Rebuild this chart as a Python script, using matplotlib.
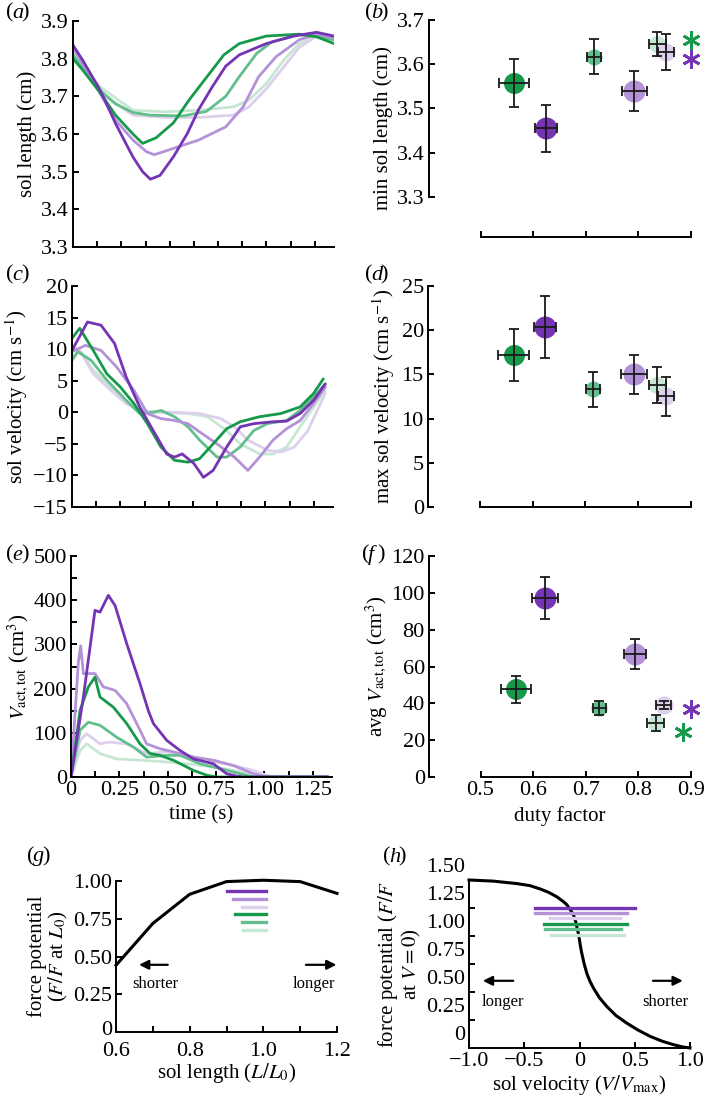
import numpy as np
import matplotlib.pyplot as plt
import matplotlib.transforms as mtransforms

plt.rcParams.update({'font.size': 16, 'font.family': ['Liberation Serif', 'DejaVu Serif'],
                     'mathtext.fontset': 'stix', 'axes.linewidth': 1.4,
                     'axes.labelsize': 15,
                     'xtick.direction': 'in', 'ytick.direction': 'in',
                     'xtick.major.width': 1.4, 'ytick.major.width': 1.4,
                     'xtick.minor.width': 1.4, 'ytick.minor.width': 1.4,
                     'xtick.major.size': 4, 'ytick.major.size': 4,
                     'xtick.minor.size': 4, 'ytick.minor.size': 4,
                     'xtick.major.pad': 3, 'ytick.major.pad': 3,
                     'axes.unicode_minus': True})

W, H = 709, 1105

# series order: dark green, dark purple, mid green, mid purple, light green, light purple
names = ['g1', 'p1', 'g2', 'p2', 'g3', 'p3']
colors = {'g1': '#16994b', 'p1': '#7534b4', 'g2': '#62bf8d', 'p2': '#b392d8',
          'g3': '#c6e7d3', 'p3': '#dcd0ec'}

# (a) sol length (cm) vs time (s)
a_g1_t = [0, 0.05, 0.14, 0.22, 0.31, 0.36, 0.43, 0.52, 0.60, 0.69, 0.78, 0.86, 1.0, 1.17, 1.26, 1.35]
a_g1 = [3.80, 3.77, 3.71, 3.65, 3.60, 3.575, 3.59, 3.63, 3.69, 3.75, 3.81, 3.84, 3.86, 3.865, 3.858, 3.84]
a_p1_t = [0, 0.05, 0.14, 0.22, 0.31, 0.36, 0.40, 0.45, 0.52, 0.59, 0.65, 0.72, 0.79, 0.86, 1.0, 1.14, 1.26, 1.35]
a_p1 = [3.836, 3.796, 3.717, 3.628, 3.539, 3.50, 3.48, 3.49, 3.54, 3.60, 3.665, 3.725, 3.78, 3.81, 3.84, 3.86, 3.87, 3.86]
a_g2_t = [0, 0.14, 0.22, 0.31, 0.40, 0.57, 0.69, 0.79, 0.86, 0.95, 1.03, 1.17, 1.26, 1.35]
a_g2 = [3.81, 3.716, 3.68, 3.657, 3.65, 3.648, 3.66, 3.70, 3.752, 3.814, 3.845, 3.863, 3.86, 3.85]
a_p2_t = [0, 0.14, 0.22, 0.31, 0.38, 0.42, 0.48, 0.65, 0.79, 0.88, 0.96, 1.05, 1.17, 1.26, 1.35]
a_p2 = [3.83, 3.708, 3.637, 3.584, 3.553, 3.545, 3.555, 3.584, 3.619, 3.672, 3.752, 3.805, 3.85, 3.865, 3.855]
a_g3_t = [0, 0.14, 0.31, 0.48, 0.65, 0.83, 0.91, 1.0, 1.09, 1.17, 1.26, 1.35]
a_g3 = [3.805, 3.725, 3.663, 3.659, 3.663, 3.672, 3.69, 3.734, 3.796, 3.84, 3.86, 3.855]
a_p3_t = [0, 0.14, 0.31, 0.48, 0.65, 0.83, 0.91, 1.0, 1.09, 1.17, 1.26, 1.35]
a_p3 = [3.823, 3.71, 3.65, 3.644, 3.644, 3.65, 3.672, 3.72, 3.778, 3.83, 3.86, 3.85]

# (c) sol velocity (cm/s) vs time (s)
c_g1_t = [0, 0.04, 0.11, 0.18, 0.25, 0.32, 0.39, 0.46, 0.53, 0.60, 0.66, 0.73, 0.80, 0.87, 0.97, 1.08, 1.18, 1.25, 1.30]
c_g1 = [11.7, 13.3, 9.8, 6.1, 4.0, 1.4, -1.8, -5.5, -7.6, -7.9, -7.35, -5.0, -2.6, -1.5, -0.7, -0.2, 0.85, 3.0, 5.3]
c_p1_t = [0, 0.08, 0.15, 0.22, 0.28, 0.35, 0.42, 0.49, 0.53, 0.57, 0.63, 0.68, 0.73, 0.80, 0.87, 0.94, 1.04, 1.11, 1.18, 1.25, 1.31]
c_p1 = [9.8, 14.3, 13.8, 10.9, 5.6, 0.85, -2.9, -6.6, -7.1, -6.6, -8.1, -10.3, -9.2, -5.5, -2.3, -1.8, -1.5, -1.4, -0.2, 1.9, 4.5]
c_g2_t = [0, 0.03, 0.10, 0.18, 0.28, 0.35, 0.42, 0.46, 0.53, 0.60, 0.66, 0.75, 0.80, 0.87, 0.94, 1.01, 1.11, 1.18, 1.25, 1.31]
c_g2 = [8.2, 9.6, 8.2, 5.1, 1.9, -0.2, 0.0, 0.3, -0.7, -2.3, -4.4, -7.1, -7.1, -5.5, -2.9, -1.8, -1.3, 0.3, 2.4, 4.5]
c_p2_t = [0, 0.07, 0.15, 0.23, 0.32, 0.39, 0.46, 0.53, 0.60, 0.66, 0.75, 0.84, 0.91, 0.97, 1.04, 1.11, 1.18, 1.25, 1.31]
c_p2 = [9.6, 10.6, 9.8, 7.2, 3.5, -0.2, -1.0, -1.3, -1.8, -3.1, -5.0, -7.1, -9.2, -7.1, -4.4, -2.6, -1.3, 1.4, 4.0]
c_g3_t = [0, 0.04, 0.11, 0.20, 0.28, 0.35, 0.46, 0.60, 0.70, 0.80, 0.87, 0.97, 1.04, 1.11, 1.18, 1.25, 1.31]
c_g3 = [8.8, 9.8, 6.7, 4.0, 1.4, 0.3, 0.0, -0.2, -0.7, -2.9, -5.0, -6.6, -6.6, -5.5, -2.3, 0.85, 3.5]
c_p3_t = [0, 0.04, 0.11, 0.20, 0.28, 0.39, 0.53, 0.66, 0.77, 0.84, 0.91, 1.01, 1.08, 1.15, 1.22, 1.31]
c_p3 = [10.4, 9.8, 6.1, 3.5, 1.4, 0.0, 0.0, -0.2, -1.0, -2.3, -4.4, -6.0, -6.3, -5.5, -2.9, 3.0]

# (e) V_act,tot (cm^3) vs time (s)
e_g1_t = [0, 0.047, 0.09, 0.124, 0.15, 0.219, 0.288, 0.357, 0.409, 0.46, 0.529, 0.633, 0.702, 0.753, 1.33]
e_g1 = [0, 151, 204, 226, 181, 158, 121, 75, 53, 49, 38, 15, 4, 0, 0]
e_p1_t = [0, 0.064, 0.124, 0.15, 0.193, 0.228, 0.288, 0.357, 0.40, 0.426, 0.495, 0.564, 0.633, 0.736, 0.805, 0.874, 1.33]
e_p1 = [0, 181, 377, 373, 411, 388, 302, 211, 150, 121, 83, 60, 41, 30, 7.5, 0, 0]
e_g2_t = [0, 0.047, 0.09, 0.15, 0.236, 0.322, 0.391, 0.495, 0.564, 0.667, 0.77, 0.874, 0.943, 1.33]
e_g2 = [0, 106, 124, 117, 90, 68, 45, 49, 49, 30, 19, 7.5, 0, 0]
e_p2_t = [0, 0.038, 0.05, 0.064, 0.124, 0.167, 0.228, 0.288, 0.357, 0.391, 0.46, 0.529, 0.633, 0.736, 0.84, 0.943, 1.01, 1.33]
e_p2 = [0, 260, 297, 234, 234, 204, 196, 166, 106, 75, 64, 57, 45, 38, 26, 7.5, 0, 0]
e_g3_t = [0, 0.047, 0.081, 0.15, 0.236, 0.357, 0.495, 0.598, 0.736, 0.84, 0.977, 1.05, 1.33]
e_g3 = [0, 60, 75, 53, 41, 38, 34, 30, 23, 15, 4, 0, 0]
e_p3_t = [0, 0.047, 0.081, 0.15, 0.2, 0.288, 0.391, 0.495, 0.598, 0.702, 0.84, 0.943, 1.01, 1.05, 1.33]
e_p3 = [0, 83, 98, 75, 79, 75, 53, 57, 49, 38, 26, 15, 4, 0, 0]

# (b), (d), (f) means +/- error vs duty factor
duty = [0.564, 0.624, 0.715, 0.792, 0.836, 0.852]
duty_err = [0.029, 0.021, 0.013, 0.024, 0.016, 0.015]
duty_f = [0.567, 0.623, 0.726, 0.794, 0.833, 0.848]
duty_f_err = [0.028, 0.025, 0.012, 0.021, 0.016, 0.014]
min_len = [3.558, 3.455, 3.617, 3.540, 3.645, 3.628]
min_len_err = [0.054, 0.053, 0.039, 0.045, 0.027, 0.040]
max_vel = [17.2, 20.4, 13.3, 15.0, 13.8, 12.5]
max_vel_err = [2.9, 3.5, 2.0, 2.2, 2.0, 2.25]
avg_vact = [47.6, 97.2, 37.5, 66.8, 29.3, 38.9]
avg_vact_err = [7.2, 11.3, 3.6, 8.1, 4.2, 2.1]
marker_px = [21, 22, 16, 22, 17, 18]

# significance asterisks (green, purple)
star_b_x, star_b_y = [0.9, 0.9], [3.655, 3.612]
star_f_x, star_f_y = [0.885, 0.9], [24.4, 36.7]

# (g) force-length
fl_x = [0.6, 0.7, 0.8, 0.9, 1.0, 1.1, 1.2]
fl_y = [0.442, 0.719, 0.912, 0.996, 1.005, 0.996, 0.918]
g_start = {'p1': 0.901, 'p2': 0.917, 'p3': 0.942, 'g1': 0.923, 'g2': 0.942, 'g3': 0.944}
g_end = 1.006
g_level = {'p1': 0.934, 'p2': 0.883, 'p3': 0.827, 'g1': 0.779, 'g2': 0.730, 'g3': 0.677}

# (h) force-velocity
fv_x = [-1.0, -0.78, -0.567, -0.45, -0.356, -0.28, -0.205, -0.15, -0.115, -0.08, -0.054, -0.035,
        -0.024, -0.01, 0.0, 0.01, 0.021, 0.04, 0.066, 0.095, 0.127, 0.18, 0.247, 0.33, 0.428,
        0.53, 0.639, 0.75, 0.85, 0.93, 1.0]
fv_y = [1.5, 1.49, 1.468, 1.45, 1.42, 1.39, 1.35, 1.31, 1.28, 1.23, 1.186, 1.13,
        1.08, 1.02, 0.964, 0.9, 0.845, 0.76, 0.667, 0.595, 0.534, 0.45, 0.371, 0.29, 0.222,
        0.16, 0.104, 0.06, 0.03, 0.01, 0.0]
h_start = {'p1': -0.40, 'p2': -0.40, 'p3': -0.27, 'g1': -0.32, 'g2': -0.31, 'g3': -0.26}
h_end = {'p1': 0.504, 'p2': 0.428, 'p3': 0.368, 'g1': 0.434, 'g2': 0.377, 'g3': 0.404}
h_level = {'p1': 1.251, 'p2': 1.207, 'p3': 1.157, 'g1': 1.106, 'g2': 1.059, 'g3': 1.008}

ARROW = dict(arrowstyle='-|>', color='black', lw=1.6, mutation_scale=14)


def add_ax(fig, l, t, r, b):
	ax = fig.add_axes([l / W, 1 - b / H, (r - l) / W, (b - t) / H])
	ax.spines['top'].set_visible(False)
	ax.spines['right'].set_visible(False)
	ax.patch.set_alpha(0)
	return ax


def panel_label(fig, x, y, s):
	fig.text(x / W, 1 - y / H, '(', ha='left', va='center')
	fig.text((x + 6) / W, 1 - y / H, s, ha='left', va='center', style='italic')
	fig.text((x + 6 + 9) / W, 1 - y / H, ')', ha='left', va='center')


def time_panel(ax, data, ylim, yticks):
	for n in ['g3', 'p3', 'g2', 'p2', 'g1', 'p1']:
		t, y = data[n]
		ax.plot(t, y, color=colors[n], lw=2.0, solid_capstyle='round', solid_joinstyle='round')
	ax.set_xlim(0, 1.35)
	ax.set_ylim(*ylim)
	ax.set_yticks(yticks)
	ax.set_xticks(np.arange(0, 1.3, 0.125))
	ax.tick_params(labelbottom=False)


def duty_panel(ax, x, xerr, y, yerr, ylim):
	for i, n in enumerate(names):
		ax.plot(x[i], y[i], 'o', ms=marker_px[i] / 1.389, color=colors[n], mec='none', zorder=2)
		ax.errorbar(x[i], y[i], xerr=xerr[i], yerr=yerr[i], fmt='none', ecolor='#1a1a1a',
		            elinewidth=1.3, capsize=3.5, capthick=1.3, zorder=3)
	ax.set_xlim(0.402, 0.9)
	ax.set_ylim(*ylim)
	ax.set_xticks([0.5, 0.6, 0.7, 0.8, 0.9])
	ax.spines['bottom'].set_bounds(0.5, 0.9)


def stars(ax, xs, ys):
	for x, y, c in zip(xs, ys, [colors['g1'], colors['p1']]):
		ax.plot(x, y, marker=(6, 2, 0), ms=13, mew=2.0, color=c, clip_on=False, ls='none')


def main():
	fig = plt.figure(figsize=(W / 100, H / 100), dpi=100)

	# (a)
	ax = add_ax(fig, 73, 21, 334, 247)
	time_panel(ax, {'g1': (a_g1_t, a_g1), 'p1': (a_p1_t, a_p1), 'g2': (a_g2_t, a_g2),
	                'p2': (a_p2_t, a_p2), 'g3': (a_g3_t, a_g3), 'p3': (a_p3_t, a_p3)},
	           (3.3, 3.9), np.arange(3.3, 3.95, 0.1))
	ax.set_yticklabels(['%.1f' % v for v in np.arange(3.3, 3.95, 0.1)])
	ax.set_ylabel('sol length (cm)', labelpad=3)
	panel_label(fig, 6, 13, 'a')

	# (b)
	ax = add_ax(fig, 429, 20, 691, 237)
	duty_panel(ax, duty, duty_err, min_len, min_len_err, (3.2096, 3.7))
	ax.set_yticks([3.3, 3.4, 3.5, 3.6, 3.7])
	ax.spines['left'].set_bounds(3.3, 3.7)
	ax.tick_params(labelbottom=False)
	ax.set_ylabel('min sol length (cm)', labelpad=3)
	stars(ax, star_b_x, star_b_y)
	panel_label(fig, 365, 13, 'b')

	# (c)
	ax = add_ax(fig, 72, 286, 333, 507)
	time_panel(ax, {'g1': (c_g1_t, c_g1), 'p1': (c_p1_t, c_p1), 'g2': (c_g2_t, c_g2),
	                'p2': (c_p2_t, c_p2), 'g3': (c_g3_t, c_g3), 'p3': (c_p3_t, c_p3)},
	           (-15, 20), np.arange(-15, 21, 5))
	ax.set_ylabel('sol velocity (cm s$^{-1}$)', labelpad=2)
	panel_label(fig, 6, 275, 'c')

	# (d)
	ax = add_ax(fig, 428, 286, 691, 507)
	duty_panel(ax, duty, duty_err, max_vel, max_vel_err, (0, 25))
	ax.set_yticks(np.arange(0, 26, 5))
	ax.tick_params(labelbottom=False)
	ax.set_ylabel('max sol velocity (cm s$^{-1}$)', labelpad=3)
	panel_label(fig, 365, 275, 'd')

	# (e)
	ax = add_ax(fig, 71, 556, 332, 777)
	time_panel(ax, {'g1': (e_g1_t, e_g1), 'p1': (e_p1_t, e_p1), 'g2': (e_g2_t, e_g2),
	                'p2': (e_p2_t, e_p2), 'g3': (e_g3_t, e_g3), 'p3': (e_p3_t, e_p3)},
	           (0, 500), np.arange(0, 501, 100))
	ax.set_yticks(np.arange(50, 500, 100), minor=True)
	ax.set_xticks([0, 0.25, 0.5, 0.75, 1.0, 1.25])
	ax.set_xticks([0.125, 0.375, 0.625, 0.875, 1.125], minor=True)
	ax.set_xticklabels(['0', '0.25', '0.50', '0.75', '1.00', '1.25'])
	ax.tick_params(labelbottom=True)
	ax.set_xlabel('time (s)', labelpad=4)
	ax.set_ylabel(r'$V_{\rm act,tot}$ (cm$^3$)', labelpad=2)
	panel_label(fig, 6, 555, 'e')

	# (f)
	ax = add_ax(fig, 429, 556, 691, 777)
	duty_panel(ax, duty_f, duty_f_err, avg_vact, avg_vact_err, (0, 120))
	ax.set_yticks(np.arange(0, 121, 20))
	ax.set_xticklabels(['0.5', '0.6', '0.7', '0.8', '0.9'])
	ax.set_xlabel('duty factor', labelpad=4)
	ax.set_ylabel(r'avg $V_{\rm act,tot}$ (cm$^3$)', labelpad=2)
	stars(ax, star_f_x, star_f_y)
	panel_label(fig, 362, 555, 'f')

	# (g)
	ax = add_ax(fig, 116, 881, 337, 1032)
	ax.plot(fl_x, fl_y, color='black', lw=2.2, clip_on=False)
	for n in ['p1', 'p2', 'p3', 'g1', 'g2', 'g3']:
		ax.plot([g_start[n], g_end], [g_level[n]] * 2, color=colors[n], lw=2.4)
	ax.set_xlim(0.6, 1.2)
	ax.set_ylim(0, 1.0)
	ax.set_xticks([0.6, 0.8, 1.0, 1.2])
	ax.set_xticks([0.7, 0.9, 1.1], minor=True)
	ax.set_xticklabels(['0.6', '0.8', '1.0', '1.2'])
	ax.set_yticks([0, 0.25, 0.5, 0.75, 1.0])
	ax.set_yticklabels(['0', '0.25', '0.50', '0.75', '1.00'])
	ax.tick_params(axis='x', pad=7)
	# nudge the "0" label up so it clears the "0.6" below it
	lab0 = ax.get_yticklabels()[0]
	lab0.set_transform(lab0.get_transform() +
	                   mtransforms.ScaledTranslation(0, 0.04, fig.dpi_scale_trans))
	ax.annotate('', xy=(0.655, 0.445), xytext=(0.748, 0.445), arrowprops=ARROW)
	ax.annotate('', xy=(1.206, 0.445), xytext=(1.108, 0.445), arrowprops=ARROW,
	            annotation_clip=False)
	ax.text(0.708, 0.32, 'shorter', ha='center', va='center', fontsize=12)
	ax.text(1.137, 0.32, 'longer', ha='center', va='center', fontsize=12)
	ax.set_xlabel('sol length ($L/L_0$)', labelpad=0)
	ax.set_ylabel('force potential\n($F/F$ at $L_0$)', linespacing=1.0, labelpad=2)
	panel_label(fig, 27, 857, 'g')

	# (h)
	ax = add_ax(fig, 469, 880, 690, 1048)
	ax.plot(fv_x, fv_y, color='black', lw=2.2, clip_on=False, zorder=2)
	for n in ['p1', 'p2', 'p3', 'g1', 'g2', 'g3']:
		ax.plot([h_start[n], h_end[n]], [h_level[n]] * 2, color=colors[n], lw=2.4, zorder=3)
	ax.set_xlim(-1, 1)
	ax.set_ylim(0, 1.5)
	ax.set_xticks([-1, -0.5, 0, 0.5, 1])
	ax.set_xticklabels(['\u22121.0', '\u22120.5', '0', '0.5', '1.0'])
	ax.set_yticks([0, 0.25, 0.5, 0.75, 1.0, 1.25, 1.5])
	ax.set_yticklabels(['0', '0.25', '0.50', '0.75', '1.00', '1.25', '1.50'])
	# the labels sit a bit above their ticks in the original
	offset = mtransforms.ScaledTranslation(0, 0.15, fig.dpi_scale_trans)
	for lab in ax.get_yticklabels():
		lab.set_transform(lab.get_transform() + offset)
	ax.annotate('', xy=(-0.9, 0.60), xytext=(-0.575, 0.60), arrowprops=ARROW,
	            annotation_clip=False)
	ax.annotate('', xy=(0.96, 0.60), xytext=(0.64, 0.60), arrowprops=ARROW)
	ax.text(-0.69, 0.415, 'longer', ha='center', va='center', fontsize=12)
	ax.text(0.78, 0.415, 'shorter', ha='center', va='center', fontsize=12)
	ax.set_xlabel(r'sol velocity ($V/V_{\rm max}$)', labelpad=1)
	ax.set_ylabel('force potential ($F/F$\nat $V = 0$)', linespacing=1.0, labelpad=2)
	panel_label(fig, 383, 857, 'h')

	fig.savefig('out.png', dpi=100)


if __name__ == '__main__':
	main()
